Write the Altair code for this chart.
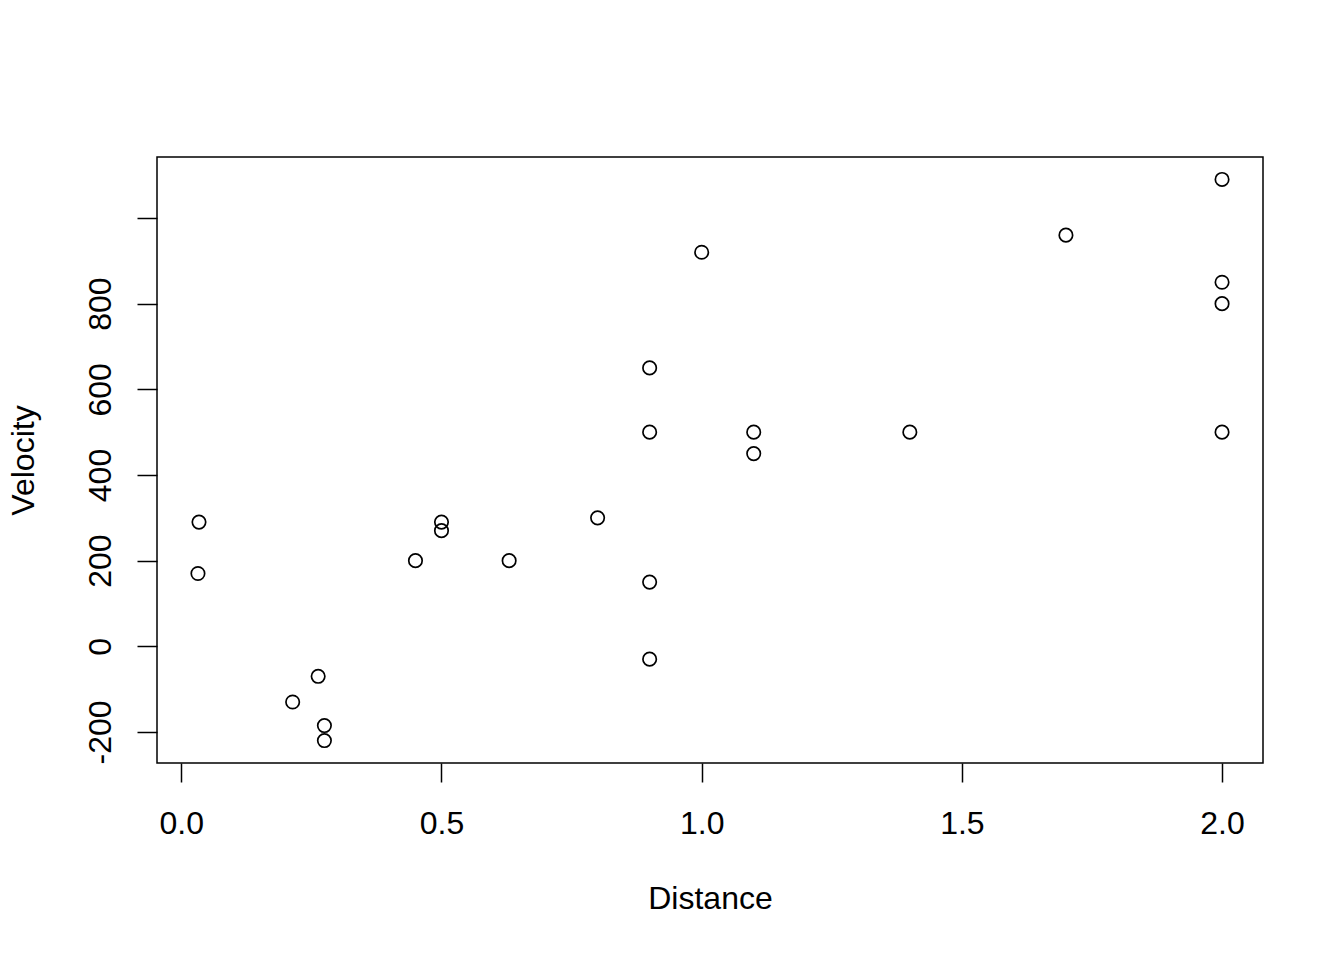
import altair as alt
import pandas as pd

distance = [0.032, 0.034, 0.214, 0.263, 0.275, 0.275, 0.45, 0.5, 0.5, 0.63, 0.8, 0.9,
            0.9, 0.9, 0.9, 1.0, 1.1, 1.1, 1.4, 1.7, 2.0, 2.0, 2.0, 2.0]
velocity = [170, 290, -130, -70, -185, -220, 200, 290, 270, 200, 300, -30,
            650, 150, 500, 920, 450, 500, 500, 960, 500, 850, 800, 1090]
x_ticks = [0.0, 0.5, 1.0, 1.5, 2.0]
y_ticks = [-200, 0, 200, 400, 600, 800, 1000]

df = pd.DataFrame({"Distance": distance, "Velocity": velocity})

FONT = "Liberation Sans"

chart = alt.Chart(df).mark_point(
    shape="circle", filled=False, color="black", size=180, strokeWidth=1.7, opacity=1
).encode(
    x=alt.X("Distance:Q",
            scale=alt.Scale(domain=[-0.0467, 2.0787], nice=False, zero=False),
            axis=alt.Axis(values=x_ticks, format=".1f", grid=False, domain=False,
                          tickSize=19, tickWidth=1.5, tickColor="black",
                          labelPadding=26, labelFontSize=32, labelFont=FONT,
                          labelColor="black", labelBaseline="top",
                          title="Distance", titleFontSize=32, titleFont=FONT,
                          titleFontWeight="normal", titleColor="black",
                          titleX=553, titleY=145, titleBaseline="alphabetic",
                          titleAlign="center")),
    y=alt.Y("Velocity:Q",
            scale=alt.Scale(domain=[-272.4, 1142.4], nice=False, zero=False),
            axis=alt.Axis(values=y_ticks, grid=False, domain=False,
                          labelExpr="datum.value == 1000 ? '' : toString(datum.value)",
                          tickSize=20, tickWidth=1.5, tickColor="black",
                          labelPadding=27, labelFontSize=32, labelFont=FONT,
                          labelColor="black", labelAngle=270, labelAlign="center",
                          labelBaseline="alphabetic",
                          title="Velocity", titleFontSize=32, titleFont=FONT,
                          titleFontWeight="normal", titleColor="black",
                          titleAngle=270, titleX=-124, titleY=303,
                          titleBaseline="alphabetic", titleAlign="center")),
).properties(
    width=1106, height=606,
    padding={"left": 149, "top": 149, "right": 60, "bottom": 170},
    autosize=alt.AutoSizeParams(type="none"),
).configure(
    background="white",
    view=alt.ViewConfig(stroke="black", strokeWidth=1.5),
)

chart.save("out.html", embed_options={"renderer": "svg", "actions": False})
